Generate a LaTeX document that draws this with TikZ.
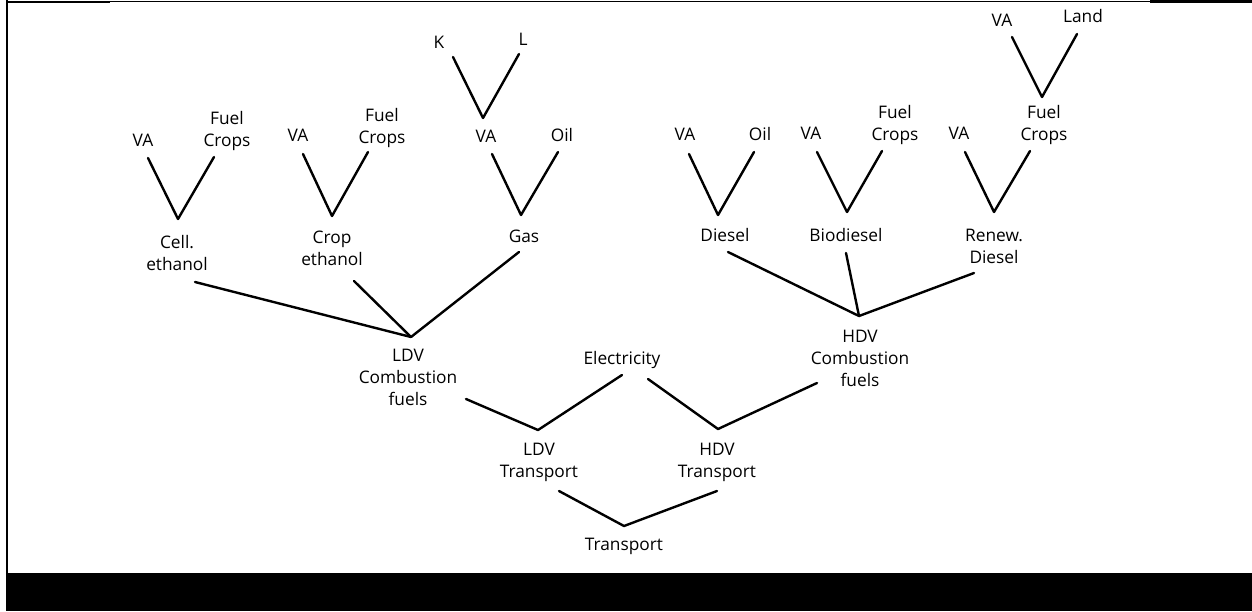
\documentclass[tikz,border=0pt]{standalone}
\usepackage{fontspec}
\setmainfont{Open Sans}
\usetikzlibrary{calc}

\begin{document}
\begin{tikzpicture}[
  x=1pt, y=-1pt,
  lbl/.style={inner sep=0pt, align=center, text height=13pt, text depth=0.6pt,
    font=\fontsize{17.3}{22}\selectfont},
  lbls/.style={inner sep=0pt, align=center,
    font=\fontsize{17.3}{22}\selectfont},
  link/.style={line width=2.4pt, line cap=round, line join=round},
  frame/.style={line width=2pt},
]
\useasboundingbox (0,0) rectangle (1252,611);

% page frame and footer band
\draw[frame] (7,0) -- (7,573);
\draw[frame] (6,2) -- (110,2);
\draw[line width=1pt] (110,1.5) -- (1150,1.5);
\draw[line width=2.5pt] (1150,1.5) -- (1252,1.5);
\fill[black] (6,572.7) rectangle (1252,611);

% inputs
\node[lbl]  (va1) at (143,140) {VA};
\node[lbls] (fc1) at (227,131) {Fuel\\Crops};
\node[lbl]  (va2) at (298,135) {VA};
\node[lbls] (fc2) at (382,128) {Fuel\\Crops};
\node[lbl]  (k)   at (439,42)  {K};
\node[lbl]  (l)   at (523,39)  {L};
\node[lbl]  (va3) at (486,136) {VA};
\node[lbl]  (oil3) at (562,135) {Oil};
\node[lbl]  (va4) at (685,134) {VA};
\node[lbl]  (oil4) at (760,134) {Oil};
\node[lbl]  (va5) at (811,133) {VA};
\node[lbls] (fc5) at (895,125) {Fuel\\Crops};
\node[lbl]  (va6) at (959,133) {VA};
\node[lbls] (fc6) at (1044,125) {Fuel\\Crops};
\node[lbl]  (va7) at (1002,20) {VA};
\node[lbl]  (land) at (1083,16) {Land};

% fuels
\node[lbls] (cell) at (177,253) {Cell.\\ethanol};
\node[lbls] (crop) at (332,248) {Crop\\ethanol};
\node[lbl]  (gas)  at (524,236) {Gas};
\node[lbl]  (diesel) at (725,235) {Diesel};
\node[lbl]  (bio)  at (846,235) {Biodiesel};
\node[lbls] (renew) at (994,246) {Renew.\\Diesel};

% aggregates
\node[lbls] (ldvc) at (408,377) {LDV\\Combustion\\fuels};
\node[lbl]  (elec) at (622,358) {Electricity};
\node[lbls] (hdvc) at (860,358) {HDV\\Combustion\\fuels};
\node[lbls] (ldvt) at (539,462) {LDV\\Transport};
\node[lbls] (hdvt) at (717,462) {HDV\\Transport};
\node[lbl]  (trans) at (624,544) {Transport};

% nests
\draw[link] ($(va1)+(5,18)$) -- ($(cell)+(1,-34)$) -- ($(fc1)+(-13,26)$);
\draw[link] ($(va2)+(5,19)$) -- ($(crop)+(0,-32)$) -- ($(fc2)+(-14,24)$);
\draw[link] ($(k)+(14,15)$) -- ($(va3)+(-3,-18)$) -- ($(l)+(-4,15)$);
\draw[link] ($(va3)+(6,18)$) -- ($(gas)+(-3,-21)$) -- ($(oil3)+(-4,17)$);
\draw[link] ($(va4)+(4,20)$) -- ($(diesel)+(-7,-20)$) -- ($(oil4)+(-6,18)$);
\draw[link] ($(va5)+(6,19)$) -- ($(bio)+(1,-23)$) -- ($(fc5)+(-13,26)$);
\draw[link] ($(va6)+(6,19)$) -- ($(renew)+(0,-34)$) -- ($(fc6)+(-14,26)$);
\draw[link] ($(va7)+(10,17)$) -- ($(fc6)+(-2,-28)$) -- ($(land)+(-6,18)$);

\draw[link] ($(cell)+(18,29)$) -- ($(ldvc)+(3,-40)$);
\draw[link] ($(crop)+(22,33)$) -- ($(ldvc)+(3,-40)$);
\draw[link] ($(gas)+(-5,16)$) -- ($(ldvc)+(3,-40)$);

\draw[link] ($(diesel)+(3,17)$) -- ($(hdvc)+(-1,-42)$);
\draw[link] ($(bio)+(0,18)$) -- ($(hdvc)+(-1,-42)$);
\draw[link] ($(renew)+(-20,27)$) -- ($(hdvc)+(-1,-42)$);

\draw[link] ($(ldvc)+(58,22)$) -- ($(ldvt)+(-1,-32)$) -- ($(elec)+(0,17)$);
\draw[link] ($(elec)+(26,21)$) -- ($(hdvt)+(1,-33)$) -- ($(hdvc)+(-43,25)$);
\draw[link] ($(ldvt)+(20,29)$) -- ($(trans)+(0,-18)$) -- ($(hdvt)+(0,29)$);
\end{tikzpicture}
\end{document}
